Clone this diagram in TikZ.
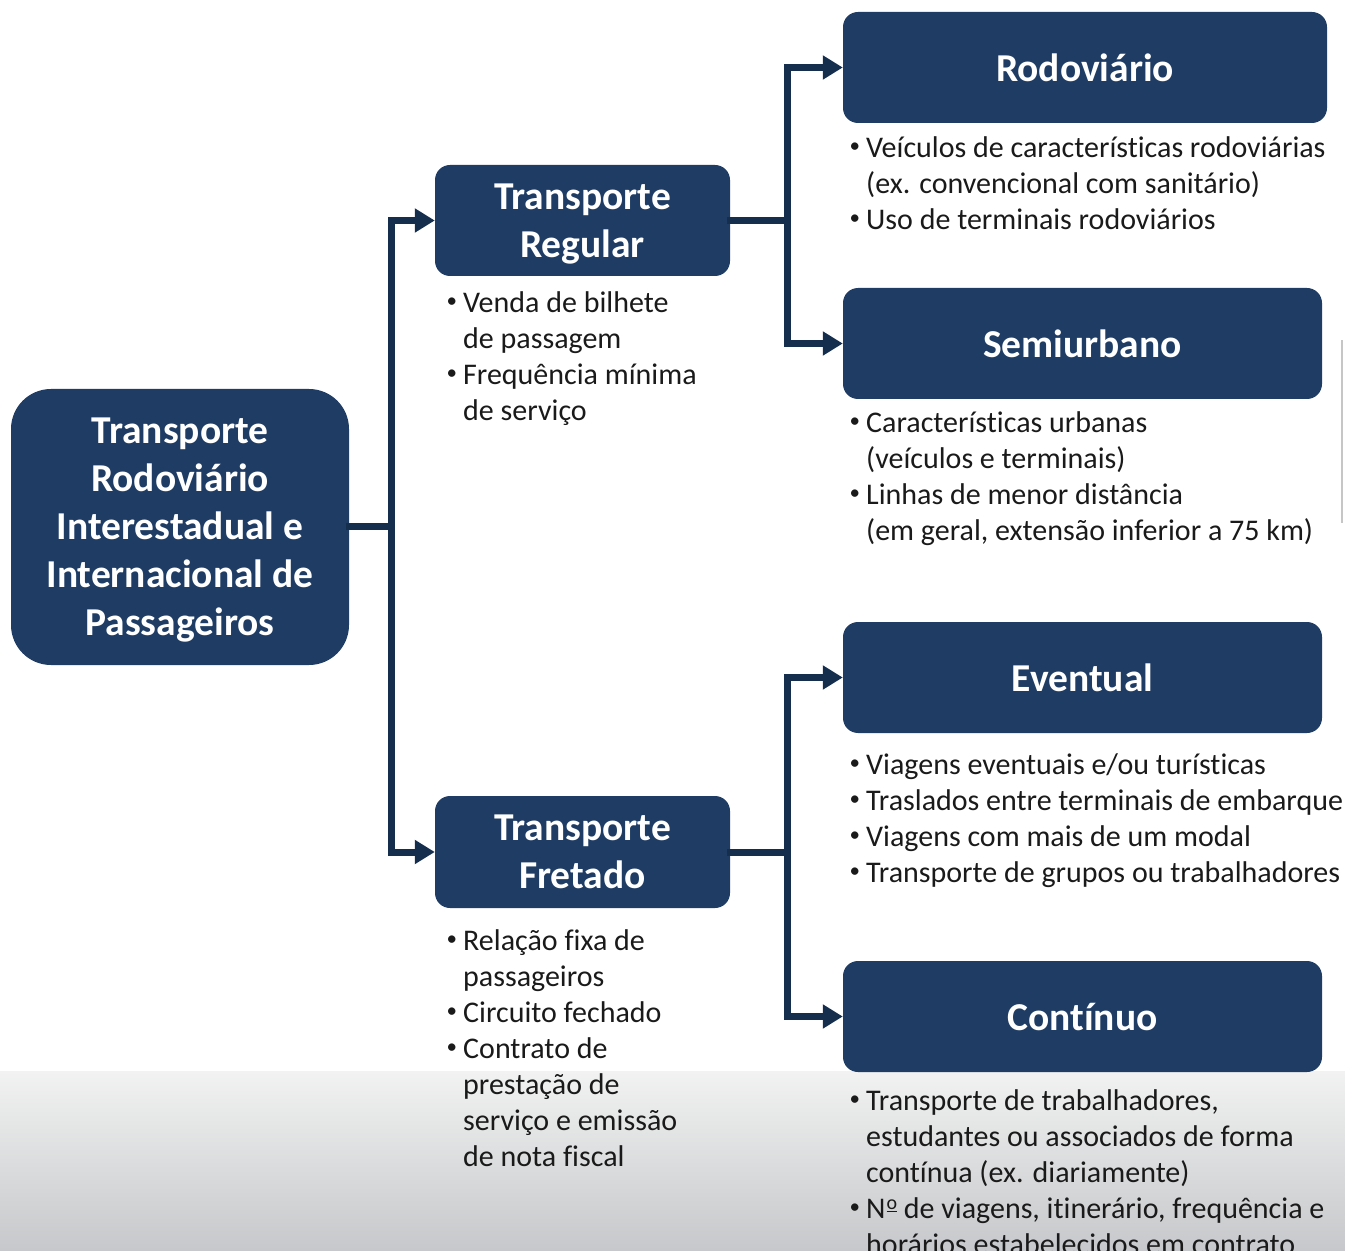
\documentclass[tikz,border=0pt]{standalone}
\usepackage{fontspec}
\setmainfont{Carlito}[Ligatures=NoCommon]
\usetikzlibrary{arrows.meta}
\definecolor{boxblue}{HTML}{1F3D64}
\definecolor{linkblue}{HTML}{162E4D}
\definecolor{txt}{HTML}{1A1A1A}
\definecolor{bandtop}{HTML}{F1F2F1}
\definecolor{bandbot}{HTML}{C7C8CB}
\newlength{\bulw}
\setlength{\bulw}{17pt}
\newcommand{\itm}{\makebox[\bulw][l]{\hspace{0.5pt}\raisebox{5pt}{\scalebox{0.7}{•}}}}
\newcommand{\cnt}{\hspace*{\bulw}}
\newcommand{\numsign}{N\kern1pt\raisebox{8.5pt}{\fontsize{20}{20}\selectfont\underline{o}}}
\begin{document}
\begin{tikzpicture}[x=1pt,y=-1pt,
  titlebox/.style={fill=boxblue, rounded corners=15pt, text=white,
    font=\fontsize{39.5}{48}\selectfont\bfseries, align=center, inner sep=0pt,
    text depth=0pt},
  bodytext/.style={anchor=base west, inner sep=0pt, text=txt,
    font=\fontsize{30}{36}\selectfont},
  conn/.style={draw=linkblue, line width=7pt, line cap=rect},
  arr/.style={conn, -{Triangle[length=20pt,width=23pt]}}
]
\useasboundingbox (0,0) rectangle (1345,1257);
% gray band at bottom
\shade[top color=bandtop, bottom color=bandbot] (0,1071) rectangle (1345,1250);
% thin gray line at right
\draw[draw=gray!45, line width=1.5pt] (1342,340) -- (1342,523);

% boxes
\node[titlebox, rounded corners=40pt, minimum width=338pt, minimum height=276pt] (main) at (180,527)
  {Transporte\\Rodoviário\\Interestadual e\\Internacional de\\Passageiros};
\node[titlebox, minimum width=295pt, minimum height=111pt] (reg) at (582.5,220.5) {Transporte\\Regular};
\node[titlebox, minimum width=295pt, minimum height=112pt] (fret) at (582.5,852) {Transporte\\Fretado};
\node[titlebox, minimum width=484pt, minimum height=111pt] (rod) at (1085,67.5) {Rodoviário};
\node[titlebox, minimum width=479pt, minimum height=111pt] (semi) at (1082.5,343.5) {Semiurbano};
\node[titlebox, minimum width=479pt, minimum height=111pt] (even) at (1082.5,677.5) {Eventual};
\node[titlebox, minimum width=479pt, minimum height=111pt] (cont) at (1082.5,1016.5) {Contínuo};

% connectors
\coordinate (j1) at (391,526);
\coordinate (j2) at (787,220.5);
\coordinate (j3) at (787,852);
\draw[conn] (main.east |- j1) -- (j1);
\draw[arr] (j1) |- (reg.west);
\draw[arr] (j1) |- (fret.west);
\draw[conn] (reg.east) -- (j2);
\draw[arr] (j2) |- (rod.west);
\draw[arr] (j2) |- (semi.west);
\draw[conn] (fret.east) -- (j3);
\draw[arr] (j3) |- (even.west);
\draw[arr] (j3) |- (cont.west);

% bullet texts
\node[bodytext] (treg) at (446,313) {\parbox[t]{300pt}{%
  \itm Venda de bilhete\\ \cnt de passagem\\ \itm Frequência mínima\\ \cnt de serviço}};
\node[bodytext] (trod) at (849,158) {\parbox[t]{500pt}{%
  \itm Veículos de características rodoviárias\\ \cnt (ex. convencional com sanitário)\\ \itm Uso de terminais rodoviários}};
\node[bodytext] (tsemi) at (849,432) {\parbox[t]{500pt}{%
  \itm Características urbanas\\ \cnt (veículos e terminais)\\ \itm Linhas de menor distância\\ \cnt (em geral, extensão inferior a 75 km)}};
\node[bodytext] (teven) at (849,774) {\parbox[t]{500pt}{%
  \itm Viagens eventuais e/ou turísticas\\ \itm Traslados entre terminais de embarque\\ \itm Viagens com mais de um modal\\ \itm Transporte de grupos ou trabalhadores}};
\node[bodytext] (tfret) at (446,950) {\parbox[t]{300pt}{%
  \itm Relação fixa de\\ \cnt passageiros\\ \itm Circuito fechado\\ \itm Contrato de\\ \cnt prestação de\\ \cnt serviço e emissão\\ \cnt de nota fiscal}};
\begin{scope}
\clip (0,0) rectangle (1345,1250);
\node[bodytext] (tcont) at (849,1110) {\parbox[t]{500pt}{%
  \itm Transporte de trabalhadores,\\ \cnt estudantes ou associados de forma\\ \cnt contínua (ex. diariamente)\\ \itm \numsign{} de viagens, itinerário, frequência e\\ \cnt horários estabelecidos em contrato}};
\end{scope}
\end{tikzpicture}
\end{document}
